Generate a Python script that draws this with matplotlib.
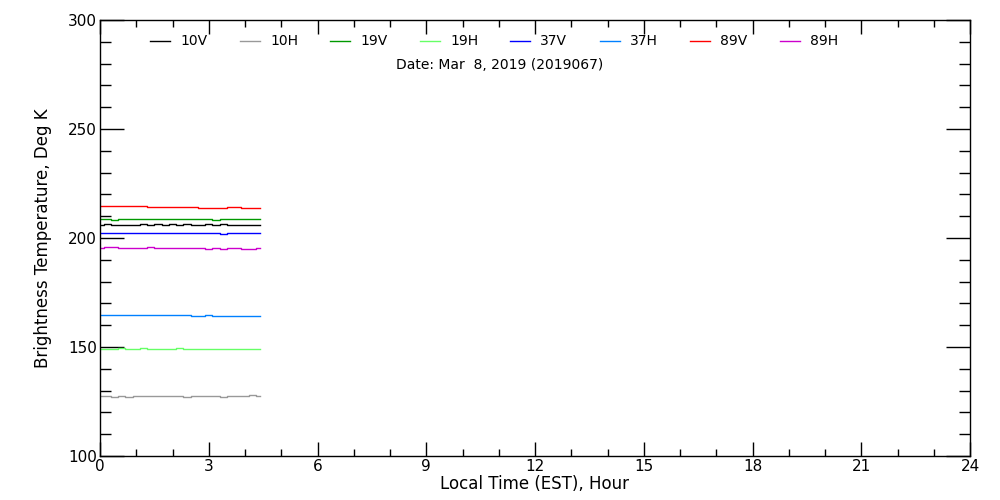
import numpy as np
import matplotlib.pyplot as plt
from matplotlib.ticker import MultipleLocator

# local time, hours
hours = [0.0, 0.2, 0.4, 0.6, 0.8, 1.0, 1.2, 1.4, 1.6, 1.8, 2.0, 2.2,
         2.4, 2.6, 2.8, 3.0, 3.2, 3.4, 3.6, 3.8, 4.0, 4.2, 4.4]

tb_10v = [206.0, 206.2, 205.8, 205.9, 206.1, 205.9, 206.3, 205.8, 206.2, 205.9, 206.3, 206.0,
          206.3, 206.1, 205.9, 206.2, 206.0, 206.2, 205.9, 206.0, 206.1, 205.9, 206.0]
tb_10h = [127.4, 127.4, 127.1, 127.6, 127.2, 127.7, 127.4, 127.4, 127.7, 127.7, 127.3, 127.7,
          127.2, 127.7, 127.5, 127.3, 127.7, 127.2, 127.7, 127.3, 127.5, 127.8, 127.5]
tb_19v = [208.7, 208.7, 208.3, 208.7, 208.7, 208.7, 208.7, 208.7, 208.7, 208.7, 208.7, 208.7,
          208.7, 208.7, 208.7, 208.7, 208.4, 208.7, 208.7, 208.7, 208.7, 208.7, 208.7]
tb_19h = [149.3, 149.3, 149.3, 149.5, 149.3, 149.3, 149.5, 149.3, 149.3, 149.3, 149.3, 149.5,
          149.3, 149.3, 149.3, 149.3, 149.3, 149.3, 149.3, 149.3, 149.3, 149.3, 149.3]
tb_37v = [202.3, 202.3, 202.3, 202.3, 202.3, 202.3, 202.3, 202.3, 202.3, 202.3, 202.3, 202.3,
          202.3, 202.3, 202.3, 202.3, 202.3, 201.9, 202.1, 202.1, 202.1, 202.1, 202.1]
tb_37h = [164.7, 164.7, 164.7, 164.7, 164.7, 164.7, 164.7, 164.7, 164.7, 164.7, 164.7, 164.7,
          164.6, 164.4, 164.4, 164.6, 164.4, 164.4, 164.4, 164.4, 164.4, 164.4, 164.4]
tb_89v = [214.7, 214.7, 214.7, 214.7, 214.7, 214.7, 214.7, 214.3, 214.3, 214.3, 214.3, 214.3,
          214.3, 214.3, 213.9, 213.7, 213.9, 213.7, 214.1, 214.1, 213.7, 213.7, 213.7]
tb_89h = [195.6, 195.8, 195.8, 195.5, 195.5, 195.5, 195.5, 195.7, 195.4, 195.4, 195.4, 195.4,
          195.4, 195.4, 195.3, 195.0, 195.2, 195.0, 195.3, 195.3, 195.0, 195.0, 195.2]

channels = ['10V', '10H', '19V', '19H', '37V', '37H', '89V', '89H']
series = [tb_10v, tb_10h, tb_19v, tb_19h, tb_37v, tb_37h, tb_89v, tb_89h]
colors = ['#000000', '#999999', '#009900', '#66ff66',
          '#0000ff', '#0080ff', '#ff0000', '#cc00cc']

plt.rcParams['font.family'] = 'DejaVu Sans'

fig = plt.figure(figsize=(10, 5), dpi=100)
ax = fig.add_axes([0.100, 0.088, 0.870, 0.872])

for tb, c in zip(series, colors):
    ax.plot(hours, tb, color=c, lw=1.0, drawstyle='steps-mid')

ax.set_xlim(0, 24)
ax.set_ylim(100, 300)
ax.xaxis.set_major_locator(MultipleLocator(3))
ax.xaxis.set_minor_locator(MultipleLocator(1))
ax.yaxis.set_major_locator(MultipleLocator(50))
ax.yaxis.set_minor_locator(MultipleLocator(10))
ax.tick_params(which='both', direction='in', top=True, right=True,
               labelsize=11, width=1, color='black', pad=2)
ax.tick_params(axis='x', which='major', length=10)
ax.tick_params(axis='x', which='minor', length=5)
ax.tick_params(axis='y', which='major', length=17)
ax.tick_params(axis='y', which='minor', length=8)
for s in ax.spines.values():
    s.set_linewidth(1)

ax.set_xlabel('Local Time (EST), Hour', fontsize=12, labelpad=1)
ax.set_ylabel('Brightness Temperature, Deg K', fontsize=12, labelpad=12)

# legend row across the top
for i, (ch, c) in enumerate(zip(channels, colors)):
    x0 = (150 + 90 * i - 100) / 870.0
    ax.plot([x0, x0 + 20 / 870.0], [0.952, 0.952], color=c, lw=1,
            transform=ax.transAxes, clip_on=False)
    ax.text(x0 + 30 / 870.0, 0.952, ch, fontsize=10, va='center', ha='left',
            transform=ax.transAxes)

ax.text((500 - 100) / 870.0, 0.897, 'Date: Mar  8, 2019 (2019067)', fontsize=10,
        ha='center', va='center', transform=ax.transAxes)

fig.savefig('out.png', dpi=100)
plt.close(fig)
